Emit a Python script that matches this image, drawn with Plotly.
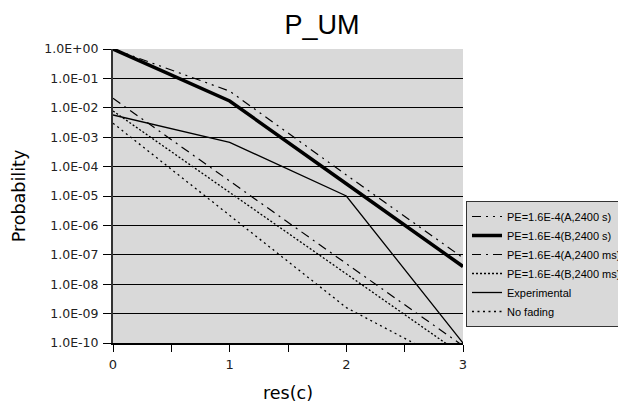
import plotly.graph_objects as go

x_vals = [0, 1, 2, 3]
series_names = [
    "PE=1.6E-4(A,2400 s)",
    "PE=1.6E-4(B,2400 s)",
    "PE=1.6E-4(A,2400 ms)",
    "PE=1.6E-4(B,2400 ms)",
    "Experimental",
    "No fading",
]
a_s = [1.0, 3.7e-2, 5.2e-5, 7.9e-8]
b_s = [1.0, 1.7e-2, 2.6e-5, 4.0e-8]
a_ms = [2.1e-2, 3.2e-5, 5.0e-8, 8.0e-11]
b_ms = [7.8e-3, 1.3e-5, 2.2e-8, 3.8e-11]
experimental = [5.7e-3, 6.7e-4, 1.0e-5, 1.0e-10]
no_fading = [3.0e-3, 2.2e-6, 1.6e-9, 1.3e-11]

y_tick_vals = [10.0 ** (-k) for k in range(0, 11)]
y_tick_text = ["1.0E+00"] + ["1.0E-%02d" % k for k in range(1, 11)]
x_tick_vals = [0, 0.5, 1, 1.5, 2, 2.5, 3]
x_tick_text = ["0", "", "1", "", "2", "", "3"]

styles = [
    dict(width=1.2, dash="9px,5px,2px,5px,2px,5px"),
    dict(width=3.5, dash="solid"),
    dict(width=1.2, dash="9px,5px,2px,5px"),
    dict(width=1.3, dash="2px,2px"),
    dict(width=1.3, dash="solid"),
    dict(width=1.3, dash="2px,3.5px"),
]
data = [a_s, b_s, a_ms, b_ms, experimental, no_fading]

# The page body adds an 8px offset; figure sized to fit the 626x410 window.
OFF = 8
W, H = 626 - OFF, 410 - OFF
PL, PR, PT, PB = 113 - OFF, 463 - OFF, 49 - OFF, 343 - OFF

fig = go.Figure()
for name, ys, st in zip(series_names, data, styles):
    fig.add_trace(go.Scatter(
        x=x_vals, y=ys, name=name, mode="lines",
        line=dict(color="black", **st),
        cliponaxis=True,
    ))

fig.update_layout(
    width=W, height=H,
    margin=dict(l=PL, r=W - PR, t=PT, b=H - PB, autoexpand=False),
    paper_bgcolor="white",
    plot_bgcolor="#d9d9d9",
    title=dict(text="P_UM", x=(322 - OFF) / W, xanchor="center", y=1 - (25 - OFF) / H, yanchor="middle",
               font=dict(family="Liberation Sans, Arial", size=27, color="black")),
    font=dict(family="DejaVu Sans", color="#222"),
    legend=dict(
        x=(466 - 113) / 350, xanchor="left",
        y=(343 - 201) / 294, yanchor="top",
        bgcolor="#d9d9d9", bordercolor="#333", borderwidth=1,
        font=dict(family="Liberation Sans", size=11, color="black"),
        itemwidth=30, tracegroupgap=0,
    ),
    showlegend=True,
)
fig.update_xaxes(
    range=[0, 3], tickmode="array", tickvals=x_tick_vals, ticktext=x_tick_text,
    showgrid=False, zeroline=False,
    showline=True, linecolor="black", linewidth=1.5,
    ticks="outside", ticklen=7, tickcolor="black", tickwidth=1,
    ticklabelstandoff=2,
    tickfont=dict(size=13, family="DejaVu Sans", color="#222"),
    title=dict(text="res(c)", font=dict(size=17.5, family="DejaVu Sans", color="black"), standoff=15),
)
fig.update_yaxes(
    type="log", range=[-10, 0], tickmode="array", tickvals=y_tick_vals, ticktext=y_tick_text,
    showgrid=True, gridcolor="black", gridwidth=1, zeroline=False,
    showline=True, linecolor="#333", linewidth=2,
    ticks="outside", ticklen=8, tickcolor="black", tickwidth=1,
    ticklabelstandoff=2,
    tickfont=dict(size=12.5, family="DejaVu Sans", color="#222"),
    title=dict(text="Probability", font=dict(size=17.5, family="DejaVu Sans", color="black"), standoff=14),
)
fig.write_html("out.html")
